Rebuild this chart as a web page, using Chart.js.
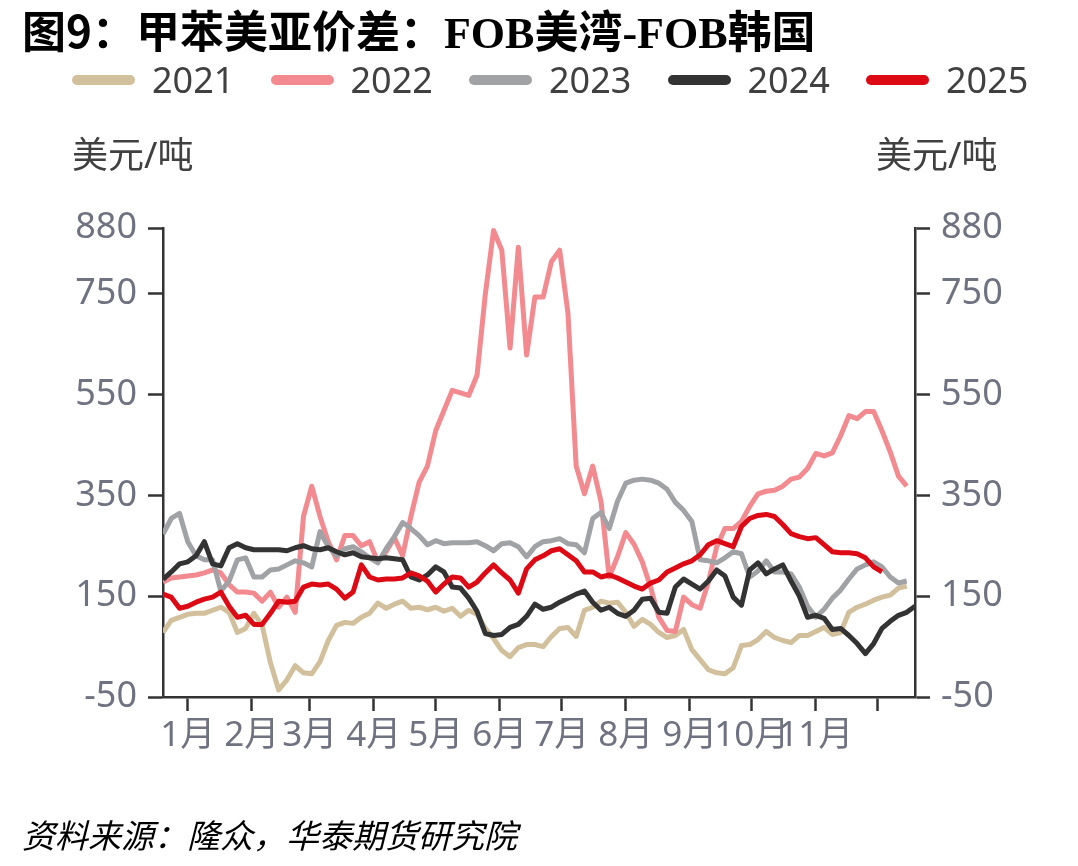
<!DOCTYPE html>
<html>
<head>
<meta charset="utf-8">
<script src="https://cdn.jsdelivr.net/npm/chart.js@4.4.1/dist/chart.umd.min.js"></script>
<style>
    body { margin: 0; background: #fff; }
    #wrap { position: relative; width: 1078px; height: 866px; overflow: hidden; }
    #chart { position: absolute; left: 0; top: 0; }
    .txt { position: absolute; white-space: nowrap; }
    #title { left: 22px; top: 7px; font: bold 44px "Liberation Serif", "Noto Sans CJK SC", serif; line-height: 44px; color: #000; }
    #title .sans { font-family: "Noto Sans CJK SC", sans-serif; }
    #legend { left: 72px; top: 60px; display: flex; font: 36px "Noto Sans", "Noto Sans CJK SC", sans-serif; line-height: 40px; color: #404040; }
    #legend .item { display: flex; align-items: center; width: 198.5px; }
    #legend .bar { width: 63px; height: 10px; border-radius: 5px; margin-right: 17px; }
    .unit { top: 137px; font: 36px "Noto Sans", "Noto Sans CJK SC", sans-serif; line-height: 36px; color: #404040; }
    #source { left: 22px; top: 816px; font: italic 33px "Noto Sans CJK SC", sans-serif; line-height: 36px; color: #000; }
</style>
</head>
<body>
<div id="wrap">
    <canvas id="chart" width="1078" height="866"></canvas>
    <div class="txt" id="title"><span class="sans">图9：</span>甲苯美亚价差：FOB美湾-FOB韩国</div>
    <div class="txt" id="legend"></div>
    <div class="txt unit" style="left:72px">美元/吨</div>
    <div class="txt unit" style="left:876px">美元/吨</div>
    <div class="txt" id="source">资料来源：隆众，华泰期货研究院</div>
</div>
<script>
// day of year (Jan 1 = 0), one sample every 4 days
const days = [-12, -8, -4, 0, 4, 8, 12, 16, 20, 24, 28, 32, 36, 40, 44, 48, 52, 56, 60, 64,
    68, 72, 76, 80, 84, 88, 92, 96, 100, 104, 108, 112, 116, 120, 124, 128, 132, 136, 140, 144,
    148, 152, 156, 160, 164, 168, 172, 176, 180, 184, 188, 192, 196, 200, 204, 208, 212, 216, 220, 224,
    228, 232, 236, 240, 244, 248, 252, 256, 260, 264, 268, 272, 276, 280, 284, 288, 292, 296, 300, 304,
    308, 312, 316, 320, 324, 328, 332, 336, 340, 344, 348, 352];

const monthStarts = [0, 31, 59, 90, 120, 151, 181, 212, 243, 273, 304, 334];
const monthLabels = ['1月', '2月', '3月', '4月', '5月', '6月', '7月', '8月', '9月', '10月', '11月', ''];
const yTicks = [-50, 150, 350, 550, 750, 880];

const years = ['2021', '2022', '2023', '2024', '2025'];
const colors = ['#D2BF9B', '#F28A8F', '#A0A2A5', '#333333', '#DD0A16'];

const s2021 = [78, 102, 108, 114, 116, 116, 122, 128, 118, 78,
    86, 116, 92, 18, -36, -16, 12, -2, -4, 20,
    62, 92, 98, 96, 108, 116, 136, 126, 134, 140,
    126, 128, 123, 128, 120, 126, 110, 122, 114, 86,
    66, 42, 30, 48, 54, 54, 50, 70, 86, 88,
    70, 122, 128, 140, 136, 138, 118, 90, 104, 94,
    78, 68, 72, 84, 44, 24, 4, -2, -4, 8,
    52, 54, 64, 80, 68, 62, 58, 72, 72, 80,
    88, 74, 78, 118, 128, 134, 142, 148, 152, 166,
    170, null];

const s2022 = [178, 186, 188, 190, 192, 196, 202, 196, 173, 158,
    158, 156, 140, 158, 128, 148, 118, 308, 368, 308,
    258, 222, 270, 270, 250, 258, 218, 238, 266, 230,
    308, 376, 408, 478, 518, 558, 553, 548, 588, 748,
    875, 836, 642, 842, 628, 743, 743, 813, 836, 712,
    408, 353, 408, 338, 188, 228, 276, 253, 218, 168,
    108, 82, 80, 148, 133, 126, 178, 248, 284, 284,
    298, 328, 353, 358, 360, 368, 382, 386, 403, 433,
    428, 434, 468, 508, 502, 516, 516, 478, 436, 388,
    368, null];

const s2023 = [273, 304, 314, 258, 230, 222, 222, 160, 180, 222,
    226, 188, 188, 202, 204, 212, 220, 216, 208, 278,
    248, 230, 244, 248, 238, 226, 216, 244, 268, 296,
    284, 270, 252, 260, 254, 256, 256, 256, 258, 250,
    240, 254, 256, 248, 228, 248, 258, 260, 264, 254,
    252, 236, 304, 316, 284, 338, 374, 380, 382, 380,
    374, 362, 336, 320, 298, 222, 220, 216, 226, 238,
    234, 188, 200, 220, 198, 198, 194, 168, 130, 108,
    124, 146, 162, 184, 204, 212, 218, 208, 188, 176,
    180, null];

const s2024 = [183, 198, 214, 218, 230, 258, 214, 210, 246, 254,
    246, 242, 242, 242, 242, 240, 246, 250, 244, 242,
    246, 238, 232, 236, 228, 226, 224, 226, 224, 222,
    188, 182, 192, 208, 198, 168, 166, 146, 120, 76,
    72, 74, 88, 94, 110, 134, 124, 128, 138, 146,
    154, 160, 138, 122, 128, 116, 110, 122, 144, 146,
    118, 116, 168, 184, 174, 164, 180, 202, 190, 148,
    132, 202, 216, 194, 204, 212, 180, 150, 108, 112,
    106, 84, 86, 72, 56, 36, 56, 86, 100, 112,
    118, 130];

const s2025 = [154, 148, 126, 130, 138, 144, 148, 158, 130, 108,
    112, 94, 94, 116, 140, 138, 140, 168, 174, 172,
    174, 164, 146, 158, 212, 188, 182, 184, 184, 186,
    196, 190, 180, 158, 174, 188, 186, 168, 178, 196,
    212, 196, 182, 156, 204, 222, 230, 240, 244, 232,
    220, 198, 198, 188, 192, 186, 178, 170, 164, 176,
    182, 198, 206, 214, 220, 232, 252, 260, 254, 248,
    288, 304, 310, 312, 308, 292, 274, 268, 264, 266,
    252, 238, 236, 236, 234, 226, 208, 198, null, null,
    null, null];

const series = [s2021, s2022, s2023, s2024, s2025];

const tickFont = { family: '"Noto Sans", "Noto Sans CJK SC", sans-serif', size: 36 };
const tickColor = '#6f7280';
const axisColor = '#333333';

const yAxis = (pos) => ({
    position: pos,
    min: -50,
    max: 880,
    afterBuildTicks: (s) => { s.ticks = yTicks.map(v => ({ value: v })); },
    afterFit: (s) => { s.width = 163; },
    ticks: { padding: 11, color: tickColor, font: tickFont },
    grid: { drawOnChartArea: false, tickLength: 15, tickWidth: 2.5, tickColor: axisColor },
    border: { color: axisColor, width: 2.5 }
});

const ctx = document.getElementById('chart').getContext('2d');
const chart = new Chart(ctx, {
    type: 'line',
    data: {
        datasets: years.map((y, i) => ({
            label: y,
            data: days.map((d, k) => ({ x: d, y: series[i][k] })),
            borderColor: colors[i],
            backgroundColor: colors[i],
            borderWidth: 5,
            borderJoinStyle: 'round',
            pointRadius: 0,
            tension: 0,
            spanGaps: false,
            order: years.length - i,
            yAxisID: 'y'
        }))
    },
    options: {
        responsive: false,
        animation: false,
        layout: { padding: { top: 228, left: 0, right: 0, bottom: 0 } },
        plugins: {
            legend: { display: false },
            title: { display: false },
            tooltip: { enabled: false }
        },
        scales: {
            x: {
                type: 'linear',
                min: -12,
                max: 352,
                afterBuildTicks: (s) => { s.ticks = monthStarts.map(v => ({ value: v })); },
                afterFit: (s) => { s.height = 866 - 697; },
                ticks: {
                    autoSkip: false,
                    maxRotation: 0,
                    padding: 4,
                    color: tickColor,
                    font: { family: tickFont.family, size: 35 },
                    callback: (v, i) => monthLabels[i]
                },
                grid: { drawOnChartArea: false, tickLength: 14, tickWidth: 2.5, tickColor: axisColor },
                border: { color: axisColor, width: 2.5 }
            },
            y: yAxis('left'),
            y2: yAxis('right')
        }
    }
});

// legend built from the chart's own datasets
const legend = document.getElementById('legend');
chart.data.datasets.forEach(ds => {
    const item = document.createElement('div');
    item.className = 'item';
    const bar = document.createElement('span');
    bar.className = 'bar';
    bar.style.background = ds.borderColor;
    item.appendChild(bar);
    item.appendChild(document.createTextNode(ds.label));
    legend.appendChild(item);
});
</script>
</body>
</html>
